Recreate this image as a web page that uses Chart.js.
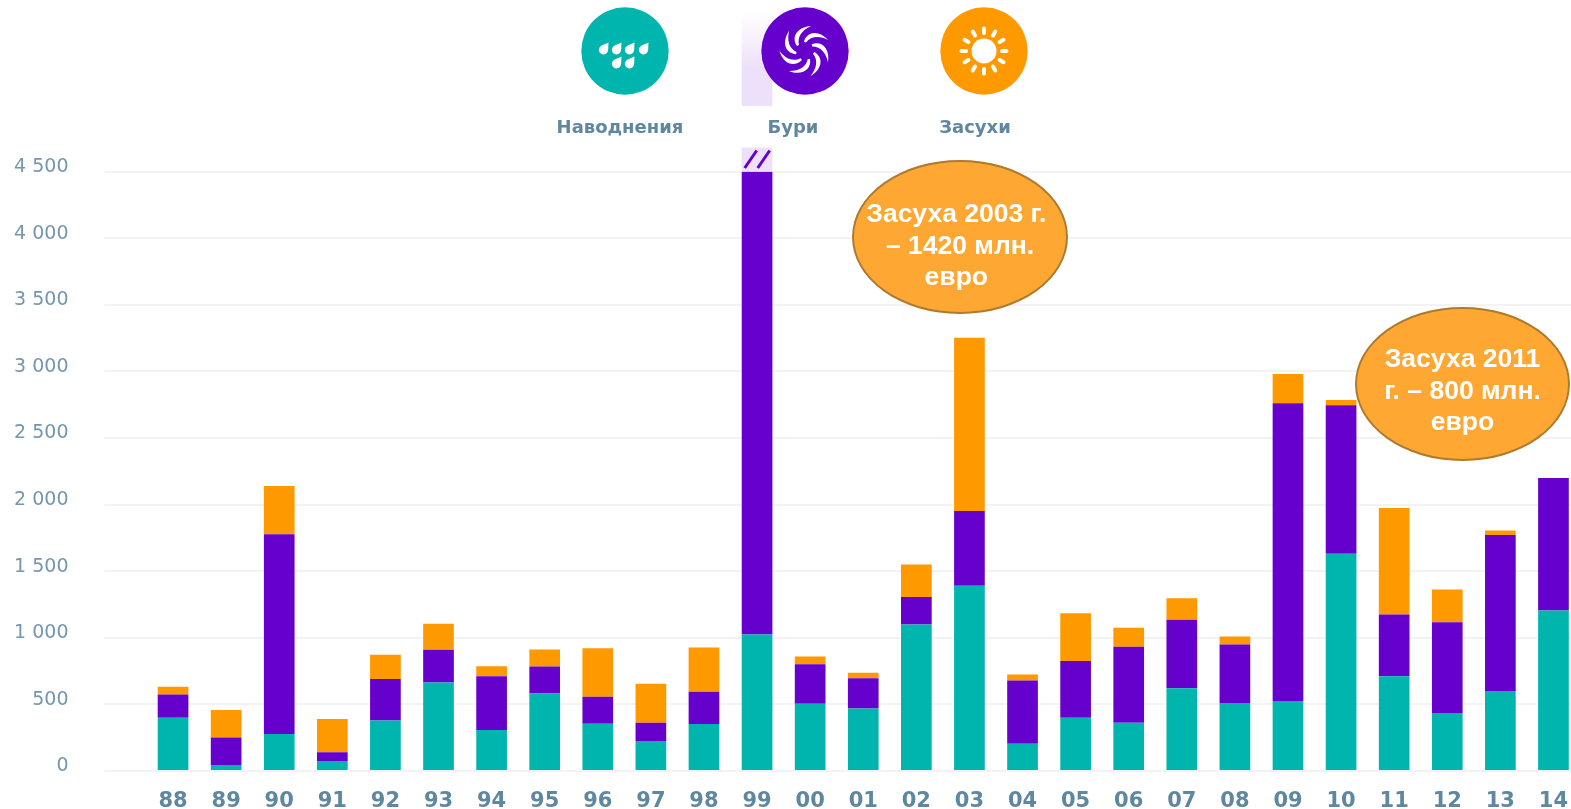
<!DOCTYPE html>
<html lang="ru">
<head>
<meta charset="utf-8">
<title>Наводнения, бури, засухи</title>
<script src="https://cdn.jsdelivr.net/npm/chart.js@4"></script>
<style>
    html, body { margin: 0; padding: 0; background: #fff; width: 1571px; height: 809px; overflow: hidden; }
    #chart { position: absolute; left: 0; top: 0; }
    .icon { position: absolute; top: 6px; width: 90px; height: 90px; }
    .name {
        position: absolute; top: 116px; width: 200px; text-align: center;
        font: bold 18px "DejaVu Sans", sans-serif; color: #5f87a0;
    }
    .note {
        position: absolute; box-sizing: border-box; border-radius: 50%;
        background: #ffa733; border: 2px solid #ae7a2e; color: #fff;
        font: bold 26.5px/31.5px "Liberation Sans", Arial, sans-serif;
        text-align: center; white-space: pre;
    }
</style>
</head>
<body>
<canvas id="chart" width="1580" height="809"></canvas>

<svg class="icon" style="left:580px" viewBox="-45 -45 90 90">
    <circle r="43.7" fill="#00b5ad"/>
    <g fill="#fff" id="drops"></g>
</svg>
<svg class="icon" style="left:760px" viewBox="-45 -45 90 90">
    <circle r="43.7" fill="#6600cc"/>
    <g fill="#fff" id="swirl"></g>
</svg>
<svg class="icon" style="left:939px" viewBox="-45 -45 90 90">
    <circle r="43.7" fill="#ff9900"/>
    <circle r="12.5" fill="#fff"/>
    <g stroke="#fff" stroke-width="4" stroke-linecap="round" id="rays"></g>
</svg>

<div class="name" style="left:520px">Наводнения</div>
<div class="name" style="left:693px">Бури</div>
<div class="name" style="left:875px">Засухи</div>

<div class="note" style="left:852px;top:160px;width:216px;height:154px;padding-top:36px">Засуха 2003 г. 
– 1420 млн.
евро </div>
<div class="note" style="left:1355px;top:307px;width:215px;height:154px;padding-top:34px">Засуха 2011
г. – 800 млн.
евро</div>

<script>
// Ma'lumotlar
const years = ['88','89','90','91','92','93','94','95','96','97','98','99','00','01','02','03','04','05','06','07','08','09','10','11','12','13','14'];
const floods = [400,45,277,75,380,665,307,582,355,225,352,1025,505,470,1100,1390,205,400,362,622,510,525,1630,712,435,600,1205];
const storms = [175,207,1500,65,310,245,405,202,202,137,243,3475,297,227,206,562,475,425,570,513,440,2235,1115,463,682,1172,995];
const droughts = [57,205,363,250,182,195,75,128,365,293,332,0,58,40,244,1300,45,360,143,162,60,220,40,800,245,33,0];
const yTickLabels = ['0','500','1 000','1 500','2 000','2 500','3 000','3 500','4 000','4 500'];

const brokenYear = '99';

// Belgilar
const drops = document.getElementById('drops');
[[-21,-2],[-8,-2],[5,-2],[19,-2],[-8,12],[5,12]].forEach(p => {
    drops.innerHTML += `<path transform="translate(${p[0]} ${p[1]}) rotate(35)" d="M0 -8 C2 -4 4.6 -2 4.6 1 A4.6 4.6 0 0 1 -4.6 1 C-4.6 -2 -2 -4 0 -8Z"/>`;
});
const swirl = document.getElementById('swirl');
for (let i = 0; i < 7; i++) {
    swirl.innerHTML += `<path transform="rotate(${i * 360 / 7})" d="M-8 -5 C-14 -14 -8 -24 6 -25 C-3 -21 -8 -14 -6 -6Z"/>`;
}
const rays = document.getElementById('rays');
for (let i = 0; i < 12; i++) {
    rays.innerHTML += `<line transform="rotate(${i * 30})" x1="0" y1="-18" x2="0" y2="-22.5"/>`;
}

// 99-yil ustuni uchun uzilish belgisi
const breakMark = {
    id: 'breakMark',
    afterDatasetsDraw(chart) {
        const bar = chart.getDatasetMeta(1).data[years.indexOf(brokenYear)];
        const c = chart.ctx;
        const left = bar.x - bar.width / 2;
        const top = chart.scales.y.getPixelForValue(4500);
        c.save();
        const g = c.createLinearGradient(0, 12, 0, 106);
        g.addColorStop(0, '#ffffff');
        g.addColorStop(0.6, '#ede0fa');
        g.addColorStop(1, '#ede0fa');
        c.fillStyle = g;
        c.fillRect(left, 12, bar.width, 94);
        c.fillStyle = '#ede0fa';
        c.fillRect(left, top - 24, bar.width, 24);
        c.strokeStyle = '#6600cc';
        c.lineWidth = 3;
        [3, 16].forEach(dx => {
            c.beginPath();
            c.moveTo(left + dx, top - 3.5);
            c.lineTo(left + dx + 12, top - 21);
            c.stroke();
        });
        c.restore();
    }
};

new Chart(document.getElementById('chart'), {
    type: 'bar',
    data: {
        labels: years,
        datasets: [
            { label: 'Наводнения', data: floods, backgroundColor: '#00b5ad' },
            { label: 'Бури', data: storms, backgroundColor: '#6600cc' },
            { label: 'Засухи', data: droughts, backgroundColor: '#ff9900' }
        ]
    },
    options: {
        responsive: false,
        animation: false,
        layout: { autoPadding: false, padding: { top: 171.5, left: 0, right: 0, bottom: 0 } },
        datasets: { bar: { barPercentage: 0.578, categoryPercentage: 1 } },
        plugins: { legend: { display: false }, title: { display: false }, tooltip: { enabled: false } },
        scales: {
            x: {
                stacked: true,
                grid: { display: false },
                border: { display: false },
                ticks: {
                    maxRotation: 0, autoSkip: false, padding: 10,
                    color: '#5f87a0',
                    font: { family: '"DejaVu Sans"', size: 21, weight: 'bold' }
                },
                // o'qlarning avtomatik chekinishini o'chirish
                afterFit: s => { s.height = 38; s.paddingLeft = 0; s.paddingRight = 0; }
            },
            y: {
                stacked: true,
                min: 0,
                max: 4500,
                border: { display: false },
                grid: { color: '#f3f3f5', lineWidth: 2, tickLength: 42 },
                ticks: {
                    stepSize: 500,
                    padding: 36,
                    labelOffset: -4.5,
                    color: '#7596ac',
                    font: { family: '"DejaVu Sans"', size: 19 },
                    callback: (v, i) => yTickLabels[i]
                },
                afterFit: s => { s.width = 146.5; s.paddingTop = 0; s.paddingBottom = 0; }
            }
        }
    },
    plugins: [breakMark]
});
</script>
</body>
</html>
